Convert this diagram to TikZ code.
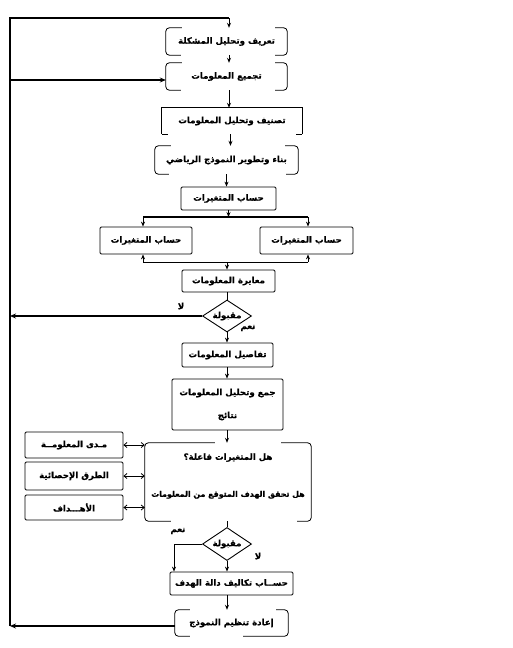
\documentclass[tikz,border=0pt]{standalone}
\usepackage{fontspec}
\TeXXeTstate=1
\newfontfamily\arabicfont[Script=Arabic, BoldFeatures={FakeBold=0.6}]{DejaVu Sans}
\usetikzlibrary{arrows.meta,shapes.geometric}
\tikzset{
  txt/.style={inner sep=0pt, font=\arabicfont\bfseries\fontsize{8.6}{10}\selectfont, align=center},
  rect/.style={txt, draw, line width=0.8pt, rounded corners=1.2pt},
  plain/.style={txt, draw=none},
  bline/.style={line width=0.8pt},
  arr/.style={-{Stealth[length=5pt,width=4pt]}, line width=0.8pt},
  looparr/.style={-{Stealth[length=6pt,width=5pt]}, line width=1.6pt},
  loopline/.style={line width=1.6pt},
  darr/.style={{Straight Barb[length=3pt,width=5pt]}-{Straight Barb[length=3pt,width=5pt]}, line width=0.8pt},
  dia/.style={txt, diamond, draw, line width=0.9pt, aspect=1.5, inner sep=0pt},
  lbl/.style={inner sep=0pt, font=\arabicfont\bfseries\fontsize{8.6}{10}\selectfont}
}
% bracket box: node, top-left stub, bottom-left stub, top-right stub, bottom-right stub
\newcommand\brkbox[5]{%
  \draw[bline, rounded corners=3.5pt] ([xshift=#2]#1.north west) -- (#1.north west) -- (#1.south west) -- ([xshift=#3]#1.south west);
  \draw[bline, rounded corners=3.5pt] ([xshift=-#4]#1.north east) -- (#1.north east) -- (#1.south east) -- ([xshift=-#5]#1.south east);}
\begin{document}
\begin{tikzpicture}[x=1pt,y=-1pt]
\useasboundingbox (0,0) rectangle (513,648);
\fill[white] (0,0) rectangle (513,648);

% main column
\node[plain, minimum width=121, minimum height=27] (b1) at (226.5,41.5) {\beginR تعريف وتحليل المشكلة\endR};
\node[plain, minimum width=121, minimum height=27] (b2) at (226.5,76.5) {\beginR تجميع المعلومات\endR};
\node[plain, minimum width=140, minimum height=26] (b3) at (232,121) {\beginR تصنيف وتحليل المعلومات\endR};
\node[plain, minimum width=143, minimum height=28] (b4) at (226.5,160) {\beginR بناء وتطوير النموذج الرياضي\endR};
\node[rect, minimum width=95, minimum height=23] (b5) at (228.5,198.5) {\beginR حساب المتغيرات\endR};
\node[rect, minimum width=92, minimum height=27] (b6a) at (146,240.5) {\beginR حساب المتغيرات\endR};
\node[rect, minimum width=93, minimum height=27] (b6b) at (306.5,240.5) {\beginR حساب المتغيرات\endR};
\node[rect, minimum width=93, minimum height=22] (b7) at (228.5,281) {\beginR معايرة المعلومات\endR};
\node[dia, minimum width=49, minimum height=32] (d1) at (227,316) {\beginR مقبولة\endR};
\node[rect, minimum width=91, minimum height=24] (b8) at (227.5,355) {\beginR تفاصيل المعلومات\endR};
\node[rect, minimum width=111, minimum height=51] (b9) at (227.5,404.5) {\beginR جمع وتحليل المعلومات\endR\\[13pt]\beginR نتائج\endR};
\node[plain, minimum width=166, minimum height=78] (b10) at (228,482) {};
\node[plain] (b10t) at (228,476) {\beginR هل المتغيرات فاعلة؟\endR\\[27pt]{\fontsize{7.9}{10}\selectfont\beginR هل تحقق الهدف المتوقع من المعلومات\endR}};
\node[rect, minimum width=98, minimum height=26] (l1) at (74,445) {\beginR مـدى المعلومــة\endR};
\node[rect, minimum width=98, minimum height=28] (l2) at (74,476) {\beginR الطرق الإحصائية\endR};
\node[rect, minimum width=98, minimum height=25] (l3) at (74,507.5) {\beginR الأهـــداف\endR};
\node[dia, minimum width=49, minimum height=33] (d2) at (227,544) {\beginR مقبولة\endR};
\node[rect, minimum width=123, minimum height=23] (b11) at (231.5,583.5) {\beginR حســاب تكاليف دالة الهدف\endR};
\node[plain, minimum width=113, minimum height=26] (b12) at (231.5,623) {\beginR إعادة تنظيم النموذج\endR};

% bracket outlines
\brkbox{b1}{16}{15}{12}{12}
\brkbox{b2}{16}{15}{12}{12}
\brkbox{b4}{16}{14}{13}{12}
\brkbox{b10}{70}{26}{30}{14}
\brkbox{b12}{15}{15}{12}{45}
\draw[bline] (b3.south west) -- (b3.north west) -- (b3.north east) -- (b3.south east);
\draw[bline] (b3.south west) -- ([xshift=6]b3.south west);
\draw[bline] (b3.south east) -- ([xshift=-6]b3.south east);

% labels
\node[lbl] (no1) at (181,306) {\beginR لا\endR};
\node[lbl] (yes1) at (248,328) {\beginR نعم\endR};
\node[lbl] (yes2) at (178,531) {\beginR نعم\endR};
\node[lbl] (no2) at (258,556) {\beginR لا\endR};

% coordinates
\coordinate (tl) at (10,18);
\coordinate (bl) at (10,626);
\coordinate (lm) at (10,80);
\coordinate (lx) at (10,316);
\coordinate (lxa) at (113,316);
\coordinate (s1) at (143,217);
\coordinate (s2) at (308,217);
\coordinate (j1) at (143,262);
\coordinate (j2) at (308,262);
\coordinate (t1) at (229,18);
\coordinate (k1) at (174,544);

% left feedback loop
\draw[loopline] (bl) -- (tl) -- (t1);
\draw[arr] (t1) -- (t1 |- b1.north);
\draw[looparr] (lm) -- (lm -| b2.west);
\draw[loopline] (d1.west) -- (lxa);
\draw[looparr] (lxa) -- (lx);
\draw[looparr] (b12.west |- bl) -- (bl);

% main flow
\draw[arr] ([xshift=2.5]b1.south) -- ([xshift=2.5]b1.south |- b2.north);
\draw[arr] ([xshift=2.5]b2.south) -- ([xshift=2.5]b2.south |- b3.north);
\draw[arr] ([xshift=-1.5]b3.south) -- ([xshift=-1.5]b3.south |- b4.north);
\draw[arr] (b4.south) -- (b4.south |- b5.north);
\draw[arr] (b5.south) -- (b5.south |- s1);
\draw[loopline] (s1) -- (s2);
\draw[arr] (s1) -- (s1 |- b6a.north);
\draw[arr] (s2) -- (s2 |- b6b.north);
\draw[bline] (j1) -- (j2);
\draw[arr] (j1) -- (j1 |- b6a.south);
\draw[arr] (j2) -- (j2 |- b6b.south);
\draw[arr] (d1.north |- j1) -- (d1.north |- b7.north);
\draw[bline] (d1.north |- b7.south) -- (d1.north);
\draw[arr] (d1.south) -- (d1.south |- b8.north);
\draw[arr] (d1.south |- b8.south) -- (d1.south |- b9.north);
\draw[arr] (d1.south |- b9.south) -- (d1.south |- b10.north);
\draw[bline] (d2.north |- b10.south) -- (d2.north);
\draw[darr] (l1.east) -- (l1.east -| b10.west);
\draw[darr] (l2.east) -- (l2.east -| b10.west);
\draw[darr] (l3.east) -- (l3.east -| b10.west);
\draw[bline] (d2.west) -- (k1);
\draw[arr] (k1) -- (k1 |- b11.north);
\draw[arr] (d2.south) -- (d2.south |- b11.north);
\draw[arr] (d2.south |- b11.south) -- (d2.south |- b12.north);
\end{tikzpicture}
\end{document}
